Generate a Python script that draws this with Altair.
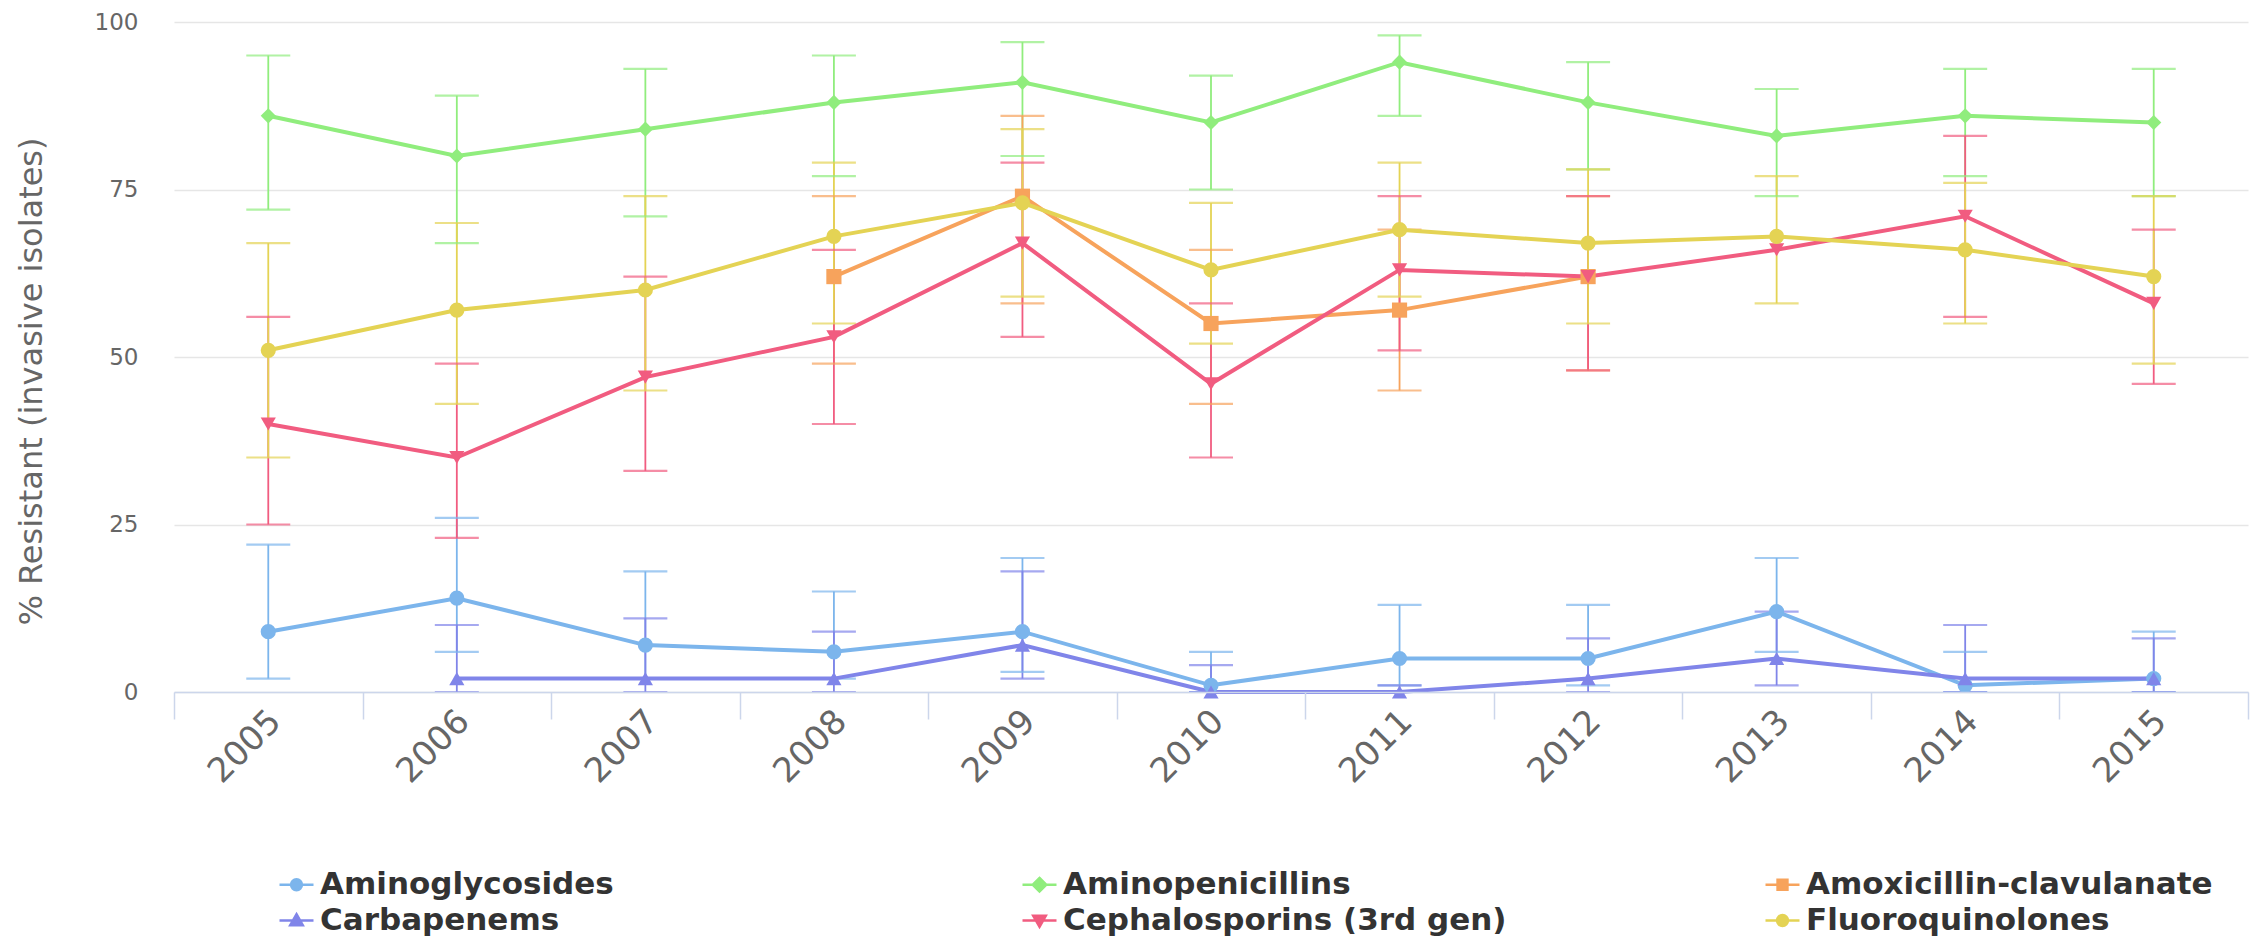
import altair as alt
import pandas as pd

years = [2005, 2006, 2007, 2008, 2009, 2010, 2011, 2012, 2013, 2014, 2015]

series_names = ["Aminoglycosides", "Aminopenicillins", "Amoxicillin-clavulanate",
                "Carbapenems", "Cephalosporins (3rd gen)", "Fluoroquinolones"]
colors = ["#7cb5ec", "#90ed7d", "#f7a35c", "#8085e9", "#f15c80", "#e4d354"]
marker_shapes = ["circle", "diamond", "square", "triangle-up", "triangle-down", "circle"]
legend_shapes = [
    "M-1,0H1M-0.32,0A0.32,0.32 0 1,0 0.32,0A0.32,0.32 0 1,0 -0.32,0Z",
    "M-1,0H1M0,-0.4L0.4,0L0,0.4L-0.4,0Z",
    "M-1,0H1M-0.29,-0.29H0.29V0.29H-0.29Z",
    "M-1,0H1M0,-0.37L0.37,0.28L-0.37,0.28Z",
    "M-1,0H1M0,0.37L0.37,-0.28L-0.37,-0.28Z",
    "M-1,0H1M-0.32,0A0.32,0.32 0 1,0 0.32,0A0.32,0.32 0 1,0 -0.32,0Z",
]

amg_val = [9, 14, 7, 6, 9, 1, 5, 5, 12, 1, 2]
amg_low = [2, 6, 2, 2, 3, 0, 1, 1, 6, 0, 0]
amg_high = [22, 26, 18, 15, 20, 6, 13, 13, 20, 6, 9]

apc_val = [86, 80, 84, 88, 91, 85, 94, 88, 83, 86, 85]
apc_low = [72, 67, 71, 77, 80, 75, 86, 78, 74, 77, 74]
apc_high = [95, 89, 93, 95, 97, 92, 98, 94, 90, 93, 93]

amc_val = [None, None, None, 62, 74, 55, 57, 62, None, None, None]
amc_low = [None, None, None, 49, 58, 43, 45, 48, None, None, None]
amc_high = [None, None, None, 74, 86, 66, 69, 74, None, None, None]

car_val = [None, 2, 2, 2, 7, 0, 0, 2, 5, 2, 2]
car_low = [None, 0, 0, 0, 2, 0, 0, 0, 1, 0, 0]
car_high = [None, 10, 11, 9, 18, 4, 1, 8, 12, 10, 8]

ceph_val = [40, 35, 47, 53, 67, 46, 63, 62, 66, 71, 58]
ceph_low = [25, 23, 33, 40, 53, 35, 51, 48, None, 56, 46]
ceph_high = [56, 49, 62, 66, 79, 58, 74, 74, None, 83, 69]

fq_val = [51, 57, 60, 68, 73, 63, 69, 67, 68, 66, 62]
fq_low = [35, 43, 45, 55, 59, 52, 59, 55, 58, 55, 49]
fq_high = [67, 70, 74, 79, 84, 73, 79, 78, 77, 76, 74]

series_data = [
    (amg_val, amg_low, amg_high),
    (apc_val, apc_low, apc_high),
    (amc_val, amc_low, amc_high),
    (car_val, car_low, car_high),
    (ceph_val, ceph_low, ceph_high),
    (fq_val, fq_low, fq_high),
]

rows = []
for name, shape, (vals, lows, highs) in zip(series_names, marker_shapes, series_data):
    for yr, v, lo, hi in zip(years, vals, lows, highs):
        rows.append({"year": yr, "series": name, "marker": shape,
                     "value": v, "low": lo, "high": hi})
df = pd.DataFrame(rows)

FONT = "DejaVu Sans"
AXIS_TITLE = "% Resistant (invasive isolates)"

xscale = alt.Scale(type="band", paddingInner=0, paddingOuter=0)
xaxis = alt.Axis(title=None, labelAngle=315, labelAlign="right", labelBaseline="middle",
                 labelPadding=-3, labelOffset=7, labelFontSize=34, labelColor="#666666",
                 labelFont=FONT, tickSize=27, tickColor="#ccd6eb", tickWidth=1.5,
                 domainColor="#ccd6eb", domainWidth=1.5, tickBand="extent",
                 grid=False, zindex=1)
yscale = alt.Scale(domain=[0, 100], nice=False)
yaxis = alt.Axis(title=AXIS_TITLE, values=[0, 25, 50, 75, 100], grid=True,
                 gridColor="#e6e6e6", gridWidth=1.5, domain=False, ticks=False,
                 labelFontSize=23, labelColor="#666666", labelFont=FONT, labelPadding=36,
                 titleFontSize=32, titleFontWeight="normal", titleColor="#666666",
                 titleFont=FONT, titleX=-143, titleY=359, titleAngle=270,
                 titleAlign="center", titleBaseline="middle")

X = alt.X("year:O", scale=xscale, axis=xaxis)
color_scale = alt.Scale(domain=series_names, range=colors)
color_nolegend = alt.Color("series:N", scale=color_scale, legend=None)

base = alt.Chart(df)

bars = base.mark_rule(strokeWidth=1.8).encode(
    x=X, y=alt.Y("low:Q", scale=yscale, axis=yaxis), y2="high:Q", color=color_nolegend
).transform_filter("isValid(datum.low)")

whisk_lo = base.mark_tick(thickness=2.2, size=44).encode(
    x=X, y=alt.Y("low:Q", scale=yscale, axis=yaxis), color=color_nolegend
).transform_filter("isValid(datum.low)")

whisk_hi = base.mark_tick(thickness=2.2, size=44).encode(
    x=X, y=alt.Y("high:Q", scale=yscale, axis=yaxis), color=color_nolegend
).transform_filter("isValid(datum.high)")

lines = base.mark_line(strokeWidth=4).encode(
    x=X, y=alt.Y("value:Q", scale=yscale, axis=yaxis), color=color_nolegend
).transform_filter("isValid(datum.value)")

points = base.mark_point(filled=True, opacity=1, size=230).encode(
    x=X, y=alt.Y("value:Q", scale=yscale, axis=yaxis), color=color_nolegend,
    shape=alt.Shape("marker:N", scale=None)
).transform_filter("isValid(datum.value)")

leg = dict(title=None, orient="none", legendX=104, legendY=844, columns=3,
           direction="horizontal", gridAlign="all", columnPadding=253, rowPadding=2,
           labelFont=FONT, labelFontSize=31, labelFontWeight="bold", labelColor="#333333",
           labelOffset=5, labelLimit=0, symbolSize=1156, symbolStrokeWidth=2.5,
           padding=0, labelBaseline="middle")

legend_layer = base.mark_point(filled=True, opacity=1, size=1156, strokeWidth=2.5).encode(
    x=X, y=alt.Y("value:Q", scale=yscale, axis=yaxis),
    color=alt.Color("series:N", scale=color_scale, legend=alt.Legend(**leg)),
    stroke=alt.Stroke("series:N", scale=alt.Scale(domain=series_names, range=colors),
                      legend=alt.Legend(**leg)),
    shape=alt.Shape("series:N", scale=alt.Scale(domain=series_names, range=legend_shapes),
                    legend=alt.Legend(**leg)),
).transform_filter("datum.value > 1000")

chart = alt.layer(bars, whisk_lo, whisk_hi, lines, points, legend_layer).resolve_legend(
    color="independent", stroke="independent", shape="independent"
).properties(
    width=2074, height=670,
    padding={"left": 166, "top": 14, "right": 2, "bottom": 250},
    autosize=alt.AutoSizeParams(type="none"),
).configure(font=FONT, background="white").configure_view(stroke=None)

chart.save("out.html", embed_options={"renderer": "svg", "actions": False})
